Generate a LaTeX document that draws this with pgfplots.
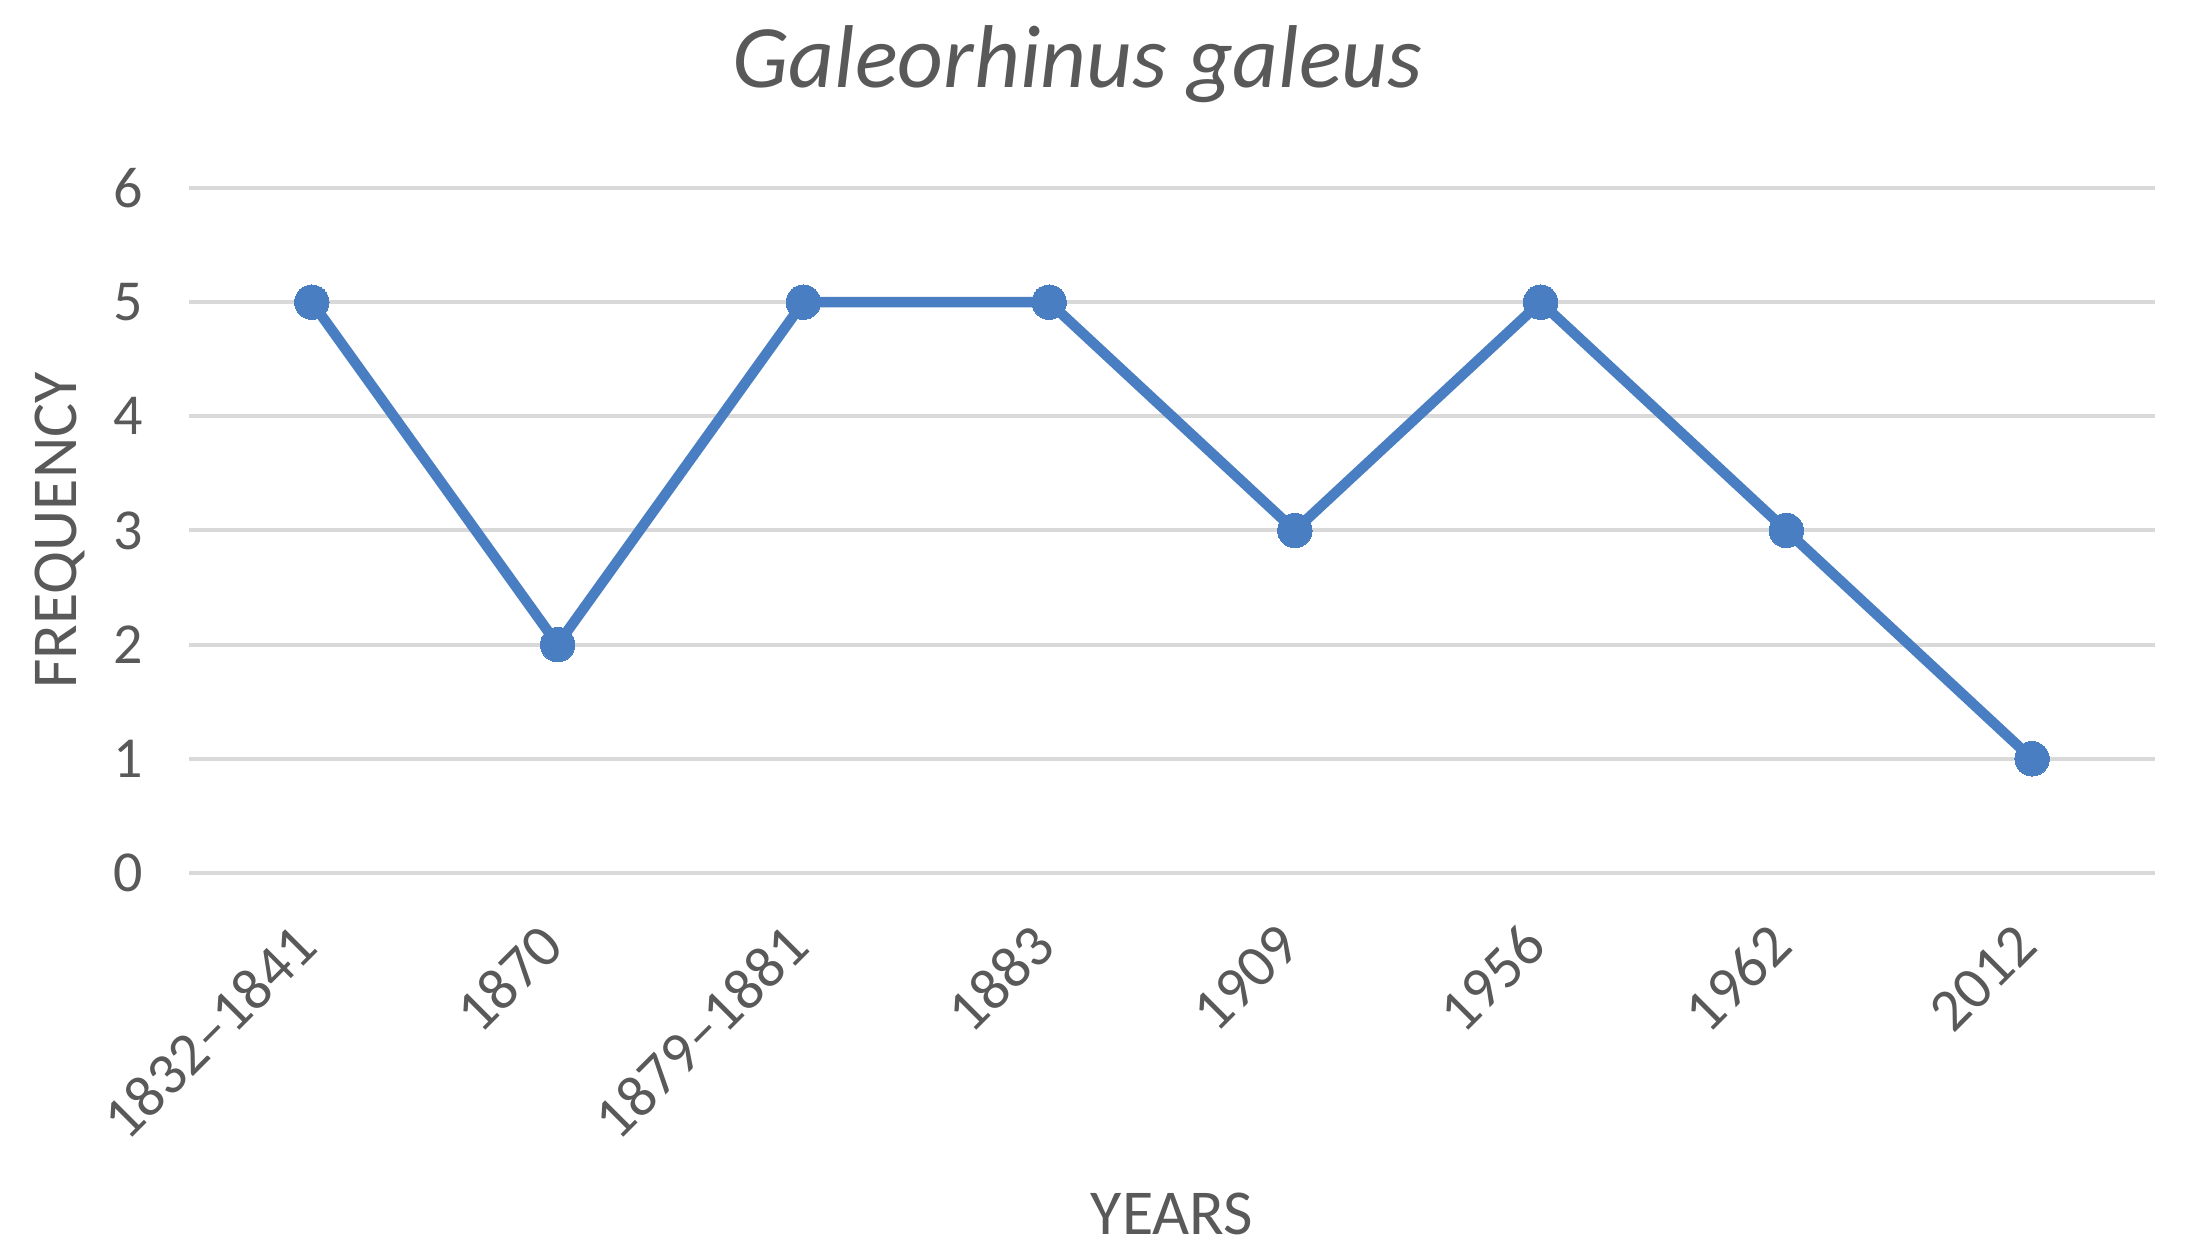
\documentclass[border=0pt]{standalone}
\usepackage{pgfplots}
\pgfplotsset{compat=1.18}
\usepackage{fontspec}
\setmainfont{Carlito}
\definecolor{txtgray}{HTML}{595959}
\definecolor{gridgray}{HTML}{D9D9D9}
\definecolor{lineblue}{HTML}{4A7EC2}
\begin{document}
\begin{tikzpicture}
\useasboundingbox (0,0) rectangle (550pt,314.75pt);
\begin{axis}[
  at={(47.25pt,96.5pt)}, anchor=south west,
  width=491.5pt, height=171.25pt, scale only axis,
  xmin=-0.5, xmax=7.5, ymin=0, ymax=6,
  xtick={0,...,7},
  xticklabels={1832--1841,1870,1879--1881,1883,1909,1956,1962,2012},
  ytick={0,...,6},
  axis line style={draw=none},
  tick style={draw=none},
  ymajorgrids, grid style={gridgray, line width=1pt},
  /pgf/number format/assume math mode=true,
  ticklabel style={font=\fontsize{14.5}{16}\selectfont, text=txtgray},
  yticklabel style={anchor=east, xshift=-8pt},
  xticklabel style={rotate=45, anchor=east, xshift=-8.5pt, yshift=-10pt, font=\fontsize{15}{16}\selectfont},
  title={\itshape Galeorhinus galeus},
  title style={at={(0.452,1.111)}, anchor=base, font=\fontsize{22.3}{26}\selectfont, text=txtgray},
  xlabel={YEARS},
  xlabel style={at={(0.5,-0.528)}, anchor=base, font=\fontsize{16}{19}\selectfont, text=txtgray},
  ylabel={FREQUENCY},
  ylabel style={at={(-0.057,0.5)}, anchor=base, font=\fontsize{16}{19}\selectfont, text=txtgray},
  clip=false,
]
\addplot[lineblue, line width=2.6pt, mark=*, mark size=4.3pt, mark options={fill=lineblue, draw=lineblue, line width=0pt}]
  coordinates {(0,5) (1,2) (2,5) (3,5) (4,3) (5,5) (6,3) (7,1)};
\end{axis}
\end{tikzpicture}
\end{document}
